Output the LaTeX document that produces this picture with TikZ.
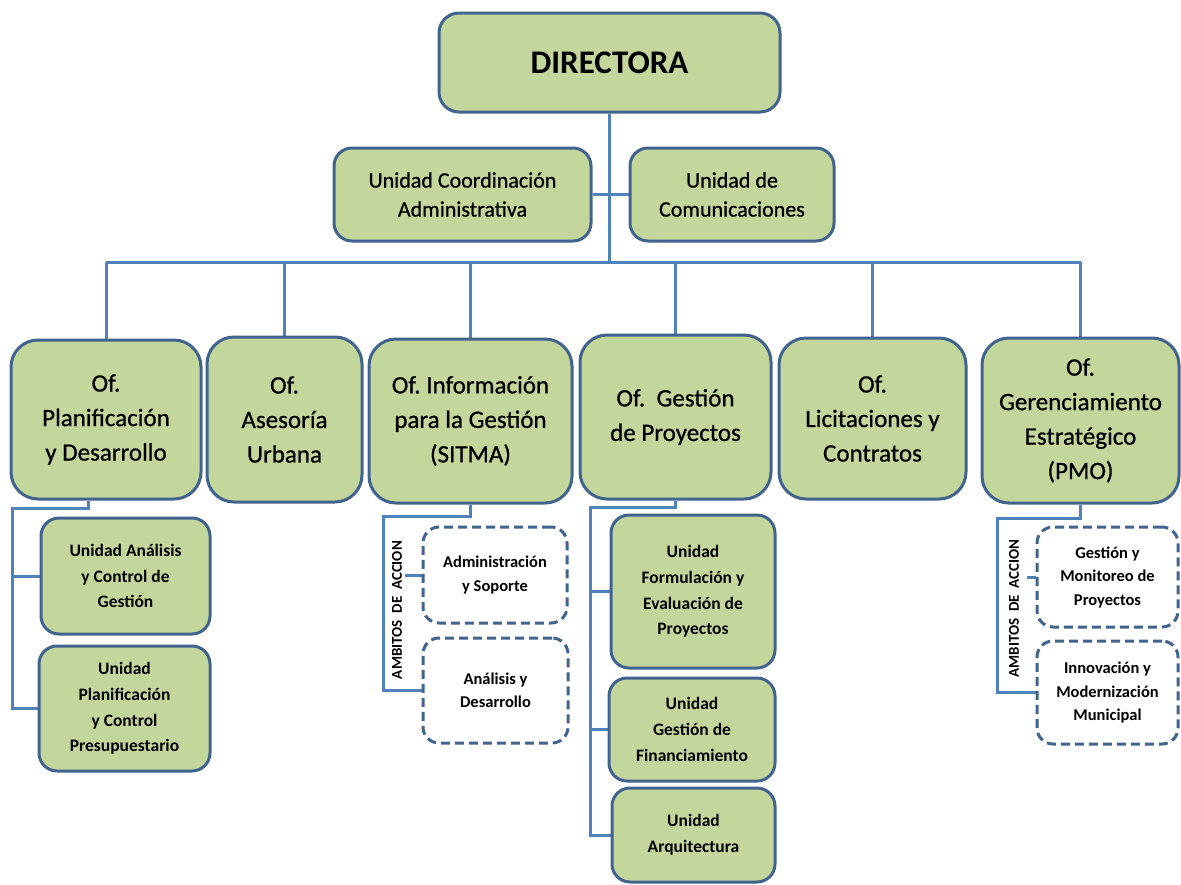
\documentclass[tikz,border=0pt]{standalone}
\usepackage{fontspec}
\setmainfont{Carlito}
\newfontfamily\heavyfont{Carlito}[FakeBold=0.8]
\usetikzlibrary{backgrounds}
\frenchspacing
\definecolor{boxfill}{HTML}{C3D69B}
\definecolor{boxline}{HTML}{41648F}
\definecolor{linkblue}{HTML}{4F81BD}
\tikzset{
  box/.style={draw=boxline, fill=boxfill, line width=3pt, inner sep=0pt, align=center, text=black},
  topbox/.style={box, rounded corners=20pt, font=\bfseries\fontsize{33}{38}\selectfont},
  unitbox/.style={box, rounded corners=18pt, font=\heavyfont\fontsize{22}{29}\selectfont},
  officebox/.style={box, rounded corners=27pt, font=\heavyfont\fontsize{25}{34.5}\selectfont},
  subbox/.style={box, rounded corners=18pt, font=\bfseries\fontsize{17.5}{25.8}\selectfont},
  scopebox/.style={draw=boxline, fill=white, line width=3pt, dash pattern=on 9pt off 5pt,
    rounded corners=16pt, inner sep=0pt, align=center, font=\bfseries\fontsize{16.5}{23.5}\selectfont},
  ambitos/.style={rotate=90, inner sep=0pt, font=\bfseries\fontsize{15}{18}\selectfont},
  conn/.style={draw=linkblue, line width=3pt},
}
\begin{document}
\begin{tikzpicture}[x=1pt, y=-1pt]
\useasboundingbox (0,0) rectangle (1181,884);

% top level
\node[topbox, minimum width=341pt, minimum height=99pt] (dir) at (609.5,62.5) {DIRECTORA};

% staff units
\node[unitbox, minimum width=257pt, minimum height=93pt] (uca) at (462.5,194.5) {Unidad Coordinación\\Administrativa};
\node[unitbox, minimum width=204pt, minimum height=93pt] (ucom) at (732,194.5) {Unidad de\\Comunicaciones};

% offices
\node[officebox, minimum width=190pt, minimum height=159pt] (pd) at (106,419.5) {Of.\\Planificación\\y Desarrollo};
\node[officebox, minimum width=155pt, minimum height=165pt] (au) at (284.5,419.5) {Of.\\Asesoría\\Urbana};
\node[officebox, minimum width=203pt, minimum height=164pt] (sitma) at (470.5,421) {Of. Información\\para la Gestión\\(SITMA)};
\node[officebox, minimum width=191pt, minimum height=164pt] (gp) at (675.5,417) {Of.\ \ Gestión\\de Proyectos};
\node[officebox, minimum width=187pt, minimum height=161pt] (lc) at (872.5,418.5) {Of.\\Licitaciones y\\Contratos};
\node[officebox, minimum width=197pt, minimum height=165pt] (pmo) at (1080.5,420.5) {Of.\\Gerenciamiento\\Estratégico\\(PMO)};

% units under Planificación y Desarrollo
\node[subbox, minimum width=169pt, minimum height=116pt] (ua) at (125.5,576) {Unidad Análisis\\y Control de\\Gestión};
\node[subbox, minimum width=171pt, minimum height=125pt] (upc) at (124.5,708.5) {Unidad\\Planificación\\y Control\\Presupuestario};

% scopes of SITMA
\node[scopebox, minimum width=144pt, minimum height=96pt] (as) at (495,575) {Administración\\y Soporte};
\node[scopebox, minimum width=145pt, minimum height=105pt] (ad) at (495.5,690.5) {Análisis y\\Desarrollo};
\node[ambitos] (amb1) at (397,610) {AMBITOS\ \ DE\ \ ACCION};

% units under Gestión de Proyectos
\node[subbox, minimum width=164pt, minimum height=153pt] (ufe) at (693,591.5) {Unidad\\Formulación y\\Evaluación de\\Proyectos};
\node[subbox, minimum width=166pt, minimum height=103pt] (ugf) at (692,729.5) {Unidad\\Gestión de\\Financiamiento};
\node[subbox, minimum width=163pt, minimum height=94pt] (uar) at (693.5,835) {Unidad\\Arquitectura};

% scopes of PMO
\node[scopebox, minimum width=141pt, minimum height=100pt] (gm) at (1107.5,577) {Gestión y\\Monitoreo de\\Proyectos};
\node[scopebox, minimum width=141pt, minimum height=103pt] (im) at (1107.5,692.5) {Innovación y\\Modernización\\Municipal};
\node[ambitos] (amb2) at (1014,608.5) {AMBITOS\ \ DE\ \ ACCION};

% connector bends
\coordinate (hub) at (609.5,262);
\coordinate (pdk) at (88,508);
\coordinate (pdl) at (12,508);
\coordinate (sik) at (470.5,516);
\coordinate (sil) at (383,516);
\coordinate (sis) at (405,575);
\coordinate (gpk) at (675.5,507);
\coordinate (gpl) at (590,507);
\coordinate (pml) at (997,518);
\coordinate (pms) at (1027,577);

\begin{pgfonlayer}{background}
\fill[white] (0,0) rectangle (1181,884);
\draw[conn] (dir.south) -- (hub);
\draw[conn] (uca.east) -- (ucom.west);
\draw[conn] (pd.north |- hub) -- (pmo.north |- hub);
\foreach \o in {pd,au,sitma,gp,lc,pmo}
  \draw[conn] (\o.north |- hub) -- (\o.north);

\draw[conn] (pd.south -| pdk) -- (pdk) -- (pdl) |- (upc.west);
\draw[conn] (pdl) |- (ua.west);

\draw[conn] (sitma.south -| sik) -- (sik) -- (sil) |- (ad.west);
\draw[conn] (sis) -- (as.west);

\draw[conn] (gp.south -| gpk) -- (gpk) -- (gpl) |- (uar.west);
\draw[conn] (gpl) |- (ufe.west);
\draw[conn] (gpl) |- (ugf.west);

\draw[conn] (pmo.south) -- (pmo.south |- pml) -- (pml) |- (im.west);
\draw[conn] (pms) -- (gm.west);
\end{pgfonlayer}
\end{tikzpicture}
\end{document}
